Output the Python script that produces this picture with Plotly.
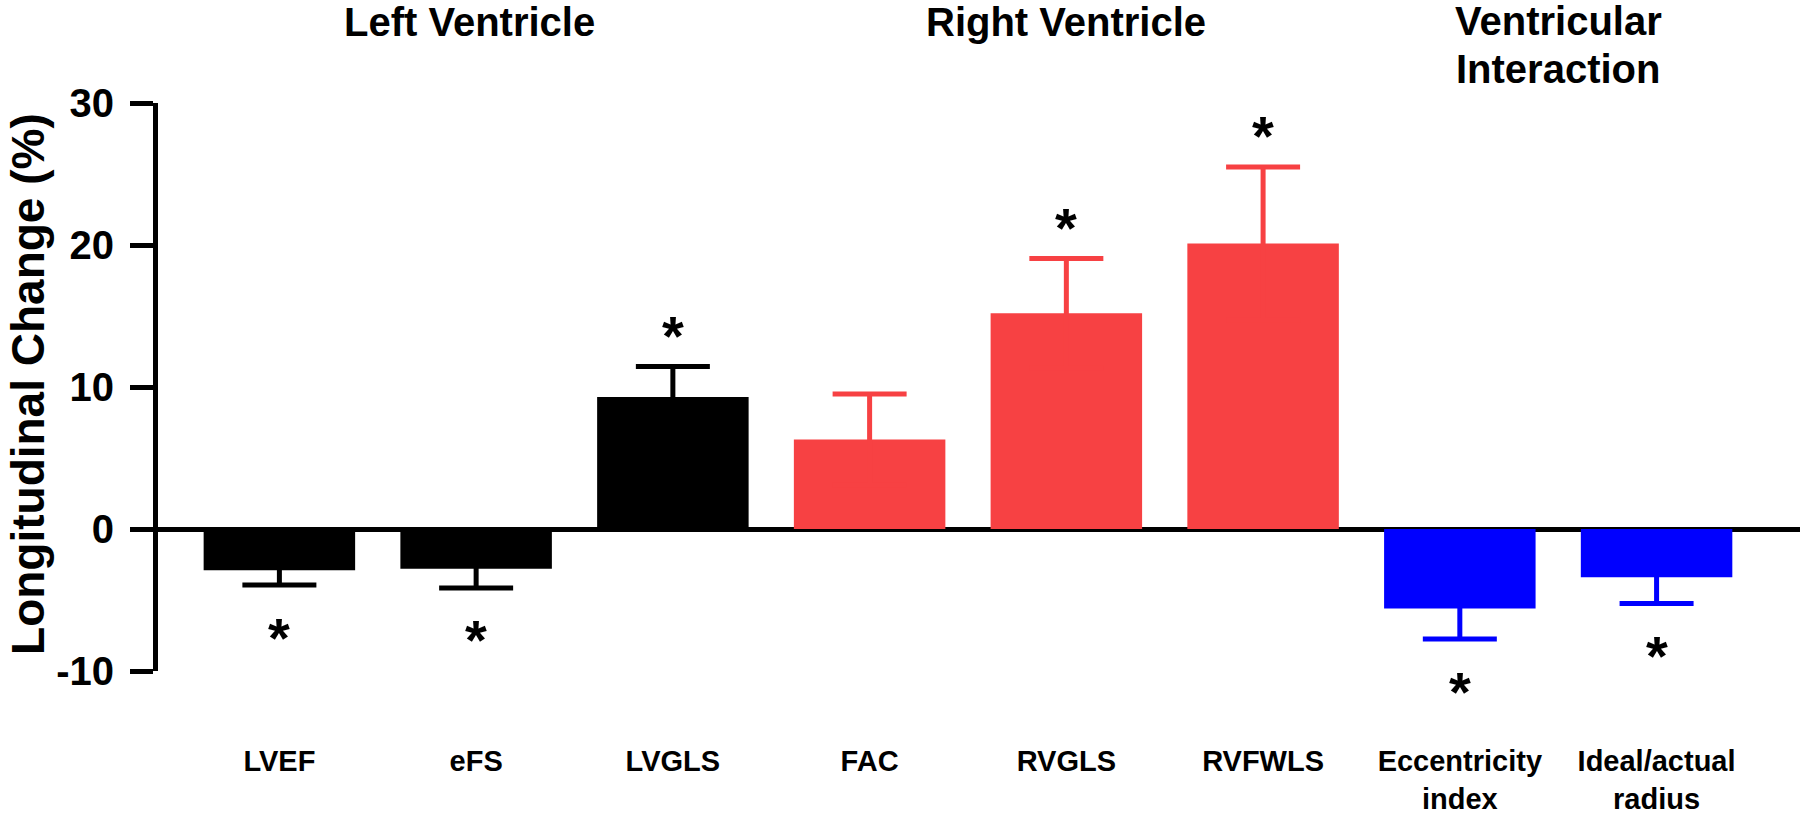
import plotly.graph_objects as go

# ---- data ----
categories = ["LVEF", "eFS", "LVGLS", "FAC", "RVGLS", "RVFWLS",
              "Eccentricity<br>index", "Ideal/actual<br>radius"]
values = [-2.9, -2.8, 9.3, 6.3, 15.2, 20.1, -5.6, -3.4]
errors = [1.05, 1.35, 2.15, 3.2, 3.85, 5.4, 2.15, 1.85]
significant = [True, True, True, False, True, True, True, True]
groups = ["LV", "LV", "LV", "RV", "RV", "RV", "VI", "VI"]
group_titles = {"LV": "Left Ventricle", "RV": "Right Ventricle",
                "VI": "Ventricular<br>Interaction"}
group_colors = {"LV": "#000000", "RV": "#F74143", "VI": "#0000FF"}
y_ticks = [-10, 0, 10, 20, 30]

FONT = "Liberation Sans, Arial, Helvetica, sans-serif"

fig = go.Figure()
for g in ["LV", "RV", "VI"]:
    idx = [i for i, gg in enumerate(groups) if gg == g]
    fig.add_trace(go.Bar(
        x=idx, y=[values[i] for i in idx], width=0.77,
        marker=dict(color=group_colors[g], line=dict(width=0)),
        error_y=dict(type="data", symmetric=True, array=[errors[i] for i in idx],
                     color=group_colors[g], thickness=5, width=37),
        showlegend=False, hoverinfo="skip",
    ))

annotations = []
# significance asterisks
for i, (v, e, s) in enumerate(zip(values, errors, significant)):
    if not s:
        continue
    end = v + e if v >= 0 else v - e
    annotations.append(dict(
        x=i, y=end, xref="x", yref="y", text="*", showarrow=False,
        font=dict(family=FONT, size=56, color="black", weight="bold"),
        xanchor="center", yanchor="middle",
        yshift=31 if v >= 0 else -52,
    ))

# group titles (one annotation per text line)
title_x = {"LV": 0.965, "RV": 4.0, "VI": 6.5}
title_y0 = {"LV": 1.1429, "RV": 1.1429, "VI": 1.1445}
line_step = 0.0854
for g, t in group_titles.items():
    for k, line in enumerate(t.split("<br>")):
        annotations.append(dict(
            x=title_x[g], y=title_y0[g] - k * line_step, xref="x", yref="paper",
            text=line, showarrow=False,
            font=dict(family=FONT, size=40, color="black", weight="bold"),
            xanchor="center", yanchor="middle",
        ))

# y axis title
annotations.append(dict(
    x=-0.0792, y=0.5, xref="paper", yref="paper",
    text="Longitudinal Change (%)", textangle=-90, showarrow=False,
    font=dict(family=FONT, size=46, color="black", weight="bold"),
    xanchor="center", yanchor="middle", yshift=3,
))

fig.update_layout(
    width=1800, height=815,
    margin=dict(l=158, r=0, t=103, b=138, pad=0),
    paper_bgcolor="white", plot_bgcolor="white",
    barmode="overlay",
    annotations=annotations,
    xaxis=dict(
        range=[-0.617, 7.729], tickmode="array",
        tickvals=list(range(len(categories))), ticktext=categories,
        showline=False, showgrid=False, zeroline=False, ticks="",
        tickfont=dict(family=FONT, size=29, color="black", weight="bold"),
        ticklabelstandoff=70,
    ),
    yaxis=dict(
        range=[-10, 30], tickmode="array", tickvals=y_ticks,
        ticktext=[str(t) for t in y_ticks],
        showline=True, linewidth=5, linecolor="black",
        ticks="outside", ticklen=23, tickwidth=5, tickcolor="black",
        showgrid=False, zeroline=True, zerolinewidth=5, zerolinecolor="black",
        tickfont=dict(family=FONT, size=40, color="black", weight="bold"),
        ticklabelstandoff=8, layer="above traces",
    ),
)

fig.write_html("out.html", config={"displayModeBar": False},
               post_script="document.body.style.margin='0px';")
